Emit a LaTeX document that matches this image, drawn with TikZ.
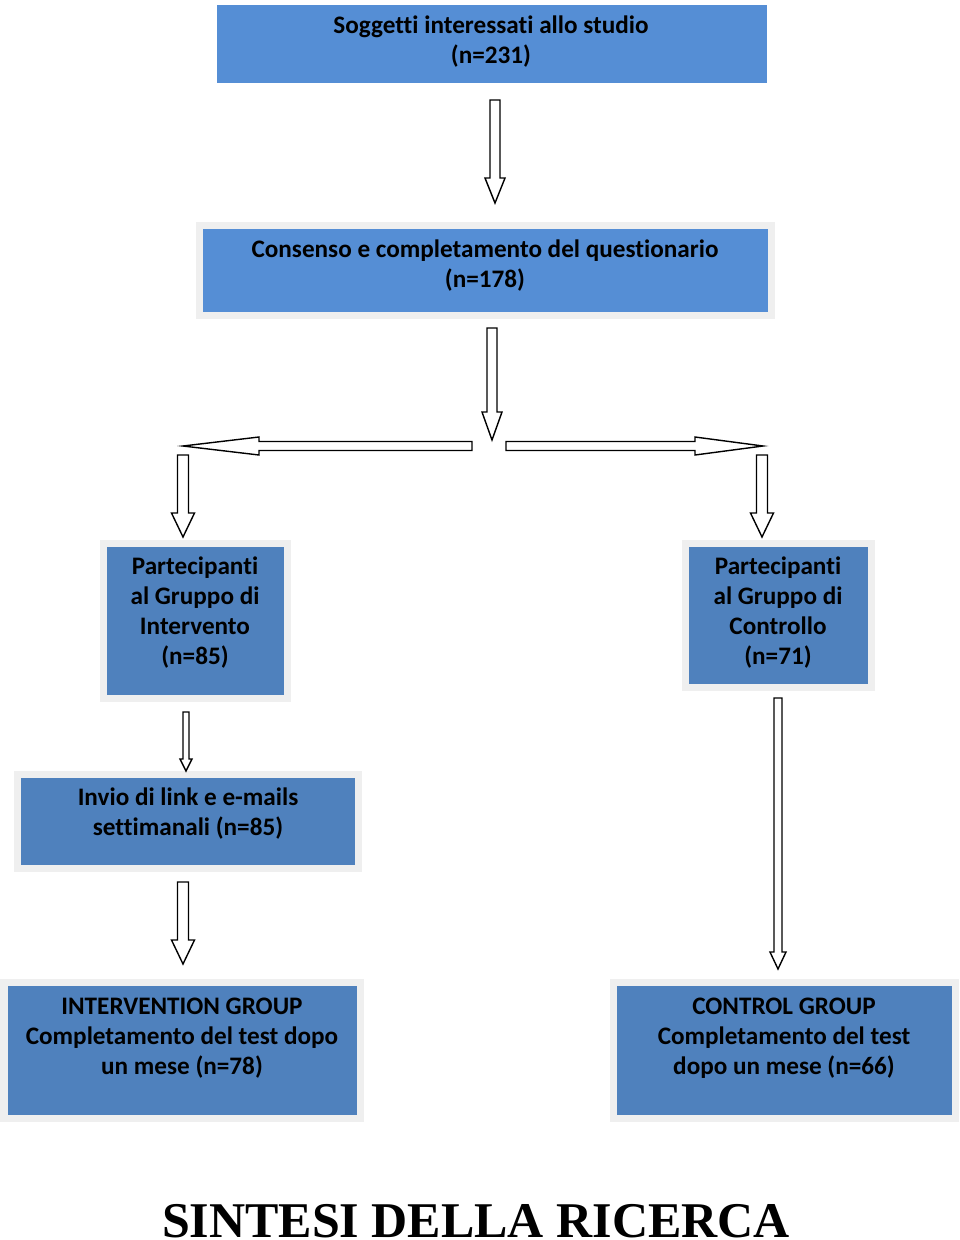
\documentclass[tikz,border=0pt]{standalone}
\usepackage{fontspec}
\setmainfont[Ligatures={NoCommon}]{Carlito}
\newfontfamily\titlefont{Liberation Serif}
\definecolor{bluetop}{HTML}{558ED5}
\definecolor{bluelow}{HTML}{4F81BD}
\definecolor{framegray}{HTML}{EFEFEF}
\tikzset{
  boxtop/.style={fill=bluetop, draw=none, inner sep=0pt},
  boxlow/.style={fill=bluelow, draw=framegray, line width=7pt, inner sep=0pt},
  boxframed/.style={fill=bluetop, draw=framegray, line width=7pt, inner sep=0pt},
  txt/.style={font=\bfseries\fontsize{25.2}{30}\selectfont, align=center, text=black, inner sep=0pt},
  barrow/.style={draw=black, fill=white, line width=1.4pt, line join=miter}
}
\newcommand\varr[6]{%
  \draw[barrow] (#1-#4,#2) -- (#1+#4,#2) -- (#1+#4,#3-#6) -- (#1+#5,#3-#6) -- (#1,#3)
    -- (#1-#5,#3-#6) -- (#1-#4,#3-#6) -- cycle;}
% x-start, x-end (tip), y, shaft half, head half, head length, direction sign (+1 right, -1 left)
\newcommand\harr[7]{%
  \draw[barrow] (#1,#3-#4) -- (#2-#7*#6,#3-#4) -- (#2-#7*#6,#3-#5) -- (#2,#3)
    -- (#2-#7*#6,#3+#5) -- (#2-#7*#6,#3+#4) -- (#1,#3+#4) -- cycle;}
\begin{document}
\begin{tikzpicture}[x=1pt,y=-1pt]
\useasboundingbox (0,0) rectangle (960,1240);
% boxes
\node[boxtop, minimum width=550pt, minimum height=78pt] (b1) at (492,44) {};
\node[txt] (t1) at (491,42) {Soggetti interessati allo studio\\(n=231)};
\node[boxframed, minimum width=572pt, minimum height=90pt] (b2) at (485,270) {};
\node[txt] (t2) at (485,266) {Consenso e completamento del questionario\\(n=178)};
\node[boxlow, minimum width=184pt, minimum height=155pt] (b3) at (195.5,621) {};
\node[txt] (t3) at (195,613) {Partecipanti\\al Gruppo di\\Intervento\\(n=85)};
\node[boxlow, minimum width=186pt, minimum height=144pt] (b4) at (778.5,615) {};
\node[txt] (t4) at (778,613) {Partecipanti\\al Gruppo di\\Controllo\\(n=71)};
\node[boxlow, minimum width=341pt, minimum height=94pt] (b5) at (188,821.5) {};
\node[txt] (t5) at (188,814) {Invio di link e e-mails\\settimanali (n=85)};
\node[boxlow, minimum width=356pt, minimum height=136pt] (b6) at (182,1050) {};
\node[txt] (t6) at (182,1038) {INTERVENTION GROUP\\Completamento del test dopo\\un mese (n=78)};
\node[boxlow, minimum width=342pt, minimum height=136pt] (b7) at (784,1050) {};
\node[txt] (t7) at (784,1038) {CONTROL GROUP\\Completamento del test\\dopo un mese (n=66)};
% arrows
\varr{495}{100}{203}{5}{10}{25}
\varr{492}{328}{440}{5}{10}{28}
\harr{472}{183}{446}{4.5}{9}{76}{-1}
\harr{506}{763}{446}{4.5}{9}{68}{1}
\varr{183}{455}{537}{5.5}{11.5}{24}
\varr{762}{455}{537}{5.5}{11.5}{24}
\varr{186}{712}{771}{3}{6}{12}
\varr{183}{882}{964}{5.5}{11.5}{24}
\varr{778}{698}{969}{4}{8}{17}
% title
\node[font=\titlefont\bfseries\fontsize{50}{50}\selectfont, anchor=base, inner sep=0pt] (title) at (476,1237) {SINTESI DELLA RICERCA};
\end{tikzpicture}
\end{document}
